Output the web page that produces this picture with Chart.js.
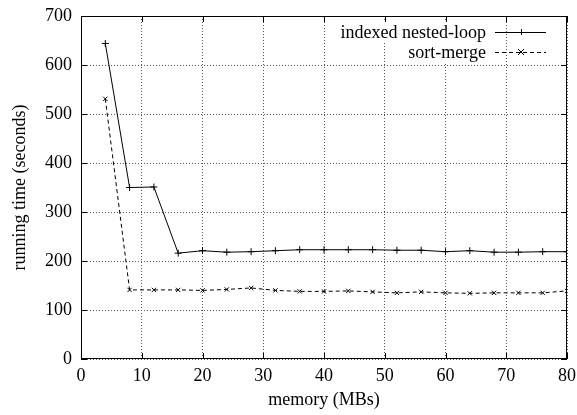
<!DOCTYPE html>
<html>
<head>
<meta charset="utf-8">
<script src="https://cdn.jsdelivr.net/npm/chart.js@4"></script>
<style>
  html, body { margin: 0; padding: 0; background: #fff; }
  #wrap { width: 577px; height: 415px; }
</style>
</head>
<body>
<div id="wrap"><canvas id="lineChart" width="577" height="415"></canvas></div>
<script>
// memory sizes (MBs)
var memory = [4, 8, 12, 16, 20, 24, 28, 32, 36, 40, 44, 48, 52, 56, 60, 64, 68, 72, 76, 80];
// running times (seconds)
var nestedLoop = [644, 350, 351, 216, 221, 218, 219, 221, 223, 223, 223, 223, 222, 222, 219, 221, 218, 218, 219, 219];
var sortMerge = [531, 141, 141, 141, 140, 142, 145, 140, 138, 138, 139, 137, 135, 137, 135, 134, 135, 135, 135, 139];
var xTicks = [0, 10, 20, 30, 40, 50, 60, 70, 80];
var yTicks = [0, 100, 200, 300, 400, 500, 600, 700];

function pts(ys) {
  return memory.map(function(x, i) { return {x: x, y: ys[i]}; });
}

var FONT = "'Liberation Serif', 'Times New Roman', serif";
var FS = 18;

// border box, inward ticks and legend drawn gnuplot-style
var frame = {
  id: 'frame',
  afterDatasetsDraw: function(chart) {
    var ctx = chart.ctx, a = chart.chartArea;
    var xs = chart.scales.x, ys = chart.scales.y;
    ctx.save();
    ctx.strokeStyle = '#000';
    ctx.lineWidth = 1;
    ctx.setLineDash([]);
    ctx.strokeRect(a.left + 0.5, a.top + 0.5, a.right - a.left - 1, a.bottom - a.top - 1);
    ctx.beginPath();
    xTicks.forEach(function(v) {
      var px = Math.round(xs.getPixelForValue(v)) + 0.5;
      ctx.moveTo(px, a.bottom); ctx.lineTo(px, a.bottom - 6);
      ctx.moveTo(px, a.top); ctx.lineTo(px, a.top + 6);
    });
    yTicks.forEach(function(v) {
      var py = Math.round(ys.getPixelForValue(v)) + 0.5;
      ctx.moveTo(a.left, py); ctx.lineTo(a.left + 6, py);
      ctx.moveTo(a.right, py); ctx.lineTo(a.right - 6, py);
    });
    ctx.stroke();

    // legend
    ctx.font = FS + 'px ' + FONT;
    ctx.textAlign = 'right';
    ctx.textBaseline = 'middle';
    var sx1 = a.right - 72, sx2 = a.right - 21;
    chart.data.datasets.forEach(function(ds, i) {
      var y = a.top + 16 + i * 20;
      var w = ctx.measureText(ds.label).width;
      ctx.fillStyle = '#fff';
      ctx.fillRect(sx1 - 11 - w, y - 10, w + 4, 20);
      ctx.fillStyle = '#000';
      ctx.fillText(ds.label, sx1 - 9, y + 1);
      ctx.beginPath();
      ctx.setLineDash(ds.borderDash || []);
      ctx.moveTo(sx1, y + 0.5); ctx.lineTo(sx2, y + 0.5);
      ctx.stroke();
      ctx.setLineDash([]);
      var cx = Math.round((sx1 + sx2) / 2), r = 3;
      ctx.beginPath();
      if (ds.pointStyle === 'cross') {
        ctx.moveTo(cx - r, y + 0.5); ctx.lineTo(cx + r, y + 0.5);
        ctx.moveTo(cx + 0.5, y - r); ctx.lineTo(cx + 0.5, y + r);
      } else {
        ctx.moveTo(cx - r, y - r); ctx.lineTo(cx + r, y + r);
        ctx.moveTo(cx - r, y + r); ctx.lineTo(cx + r, y - r);
      }
      ctx.stroke();
    });
    ctx.restore();
  }
};

var ctxL = document.getElementById("lineChart").getContext('2d');
var myLineChart = new Chart(ctxL, {
  type: 'scatter',
  data: {
    datasets: [{
        label: "indexed nested-loop",
        data: pts(nestedLoop),
        showLine: true,
        borderColor: '#000',
        backgroundColor: '#000',
        borderWidth: 1,
        pointStyle: 'cross',
        pointRadius: 3.5,
        pointBorderWidth: 1
      },
      {
        label: "sort-merge",
        data: pts(sortMerge),
        showLine: true,
        borderColor: '#000',
        backgroundColor: '#000',
        borderWidth: 1,
        borderDash: [4, 3],
        pointStyle: 'crossRot',
        pointRadius: 3,
        pointBorderWidth: 1
      }
    ]
  },
  options: {
    responsive: false,
    animation: false,
    layout: { padding: { top: 16, right: 10, left: 0, bottom: 0 } },
    plugins: { legend: { display: false }, tooltip: { enabled: false } },
    scales: {
      x: {
        type: 'linear', min: 0, max: 80,
        afterBuildTicks: function(s) { s.ticks = xTicks.map(function(v) { return {value: v}; }); },
        afterFit: function(s) { s.height = 56; s.paddingLeft = 0; s.paddingRight = 0; },
        grid: { color: '#555', drawTicks: false, lineWidth: 1 },
        border: { display: false, dash: [1, 2] },
        ticks: { color: '#000', font: { family: FONT, size: FS }, padding: 6, maxRotation: 0 },
        title: { display: true, text: 'memory (MBs)', color: '#000', font: { family: FONT, size: FS }, padding: { top: 2 } }
      },
      y: {
        min: 0, max: 700,
        afterBuildTicks: function(s) { s.ticks = yTicks.map(function(v) { return {value: v}; }); },
        afterFit: function(s) { s.width = 81; s.paddingTop = 0; s.paddingBottom = 0; },
        grid: { color: '#555', drawTicks: false, lineWidth: 1 },
        border: { display: false, dash: [1, 2] },
        ticks: { color: '#000', font: { family: FONT, size: FS }, padding: 9 },
        title: { display: true, text: 'running time (seconds)', color: '#000', font: { family: FONT, size: FS }, padding: { top: 9, bottom: 4 } }
      }
    }
  },
  plugins: [frame]
});
</script>
</body>
</html>
